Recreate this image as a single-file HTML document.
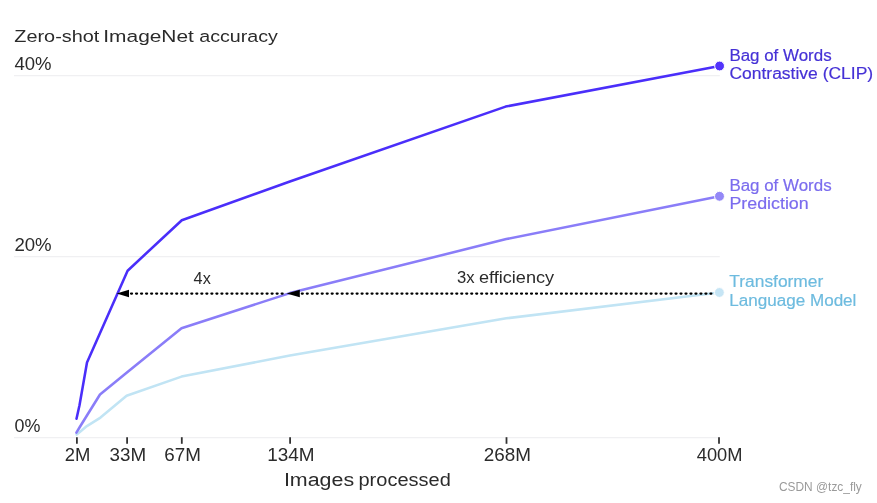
<!DOCTYPE html>
<html lang="en">
<head>
<meta charset="utf-8">
<title>Zero-shot ImageNet accuracy</title>
<style>
  html, body { margin: 0; padding: 0; background: #ffffff; }
  body { width: 877px; height: 503px; overflow: hidden; }
  svg { display: block; }
  text { font-family: "Liberation Sans", sans-serif; fill: #2b2b2b; }
  .grid { stroke: #f0f0f2; stroke-width: 1.4; }
  .tick { stroke: #333333; stroke-width: 1.8; }
  .ln { fill: none; stroke-width: 2.55; stroke-linejoin: round; stroke-linecap: round; }
  .dot { stroke: #000000; stroke-width: 2.1; stroke-dasharray: 1.1 3.9; stroke-linecap: round; fill: none; }
  .lb { stroke-width: 0.18; }
</style>
</head>
<body>
<svg width="877" height="503" viewBox="0 0 877 503">
  <rect x="0" y="0" width="877" height="503" fill="#ffffff"/>

  <!-- grid lines -->
  <line class="grid" x1="14" y1="75.6" x2="719.8" y2="75.6"/>
  <line class="grid" x1="14" y1="256.6" x2="719.8" y2="256.6"/>
  <line class="grid" x1="14" y1="437.6" x2="719.8" y2="437.6"/>

  <!-- ticks -->
  <line class="tick" x1="76.9" y1="437.2" x2="76.9" y2="443.8"/>
  <line class="tick" x1="127.1" y1="437.2" x2="127.1" y2="443.8"/>
  <line class="tick" x1="181.8" y1="437.2" x2="181.8" y2="443.8"/>
  <line class="tick" x1="290.1" y1="437.2" x2="290.1" y2="443.8"/>
  <line class="tick" x1="506.5" y1="437.2" x2="506.5" y2="443.8"/>
  <line class="tick" x1="719" y1="437.2" x2="719" y2="443.8"/>

  <!-- title and y labels -->
  <text id="t_title" x="14.3" y="41.7" font-size="16.9" textLength="85" lengthAdjust="spacingAndGlyphs">Zero-shot</text>
  <text id="t_title2" x="103.3" y="41.7" font-size="16.9" textLength="90.6" lengthAdjust="spacingAndGlyphs">ImageNet</text>
  <text id="t_title3" x="199.3" y="41.7" font-size="16.9" textLength="78.6" lengthAdjust="spacingAndGlyphs">accuracy</text>
  <text id="t_40" x="14.4" y="70.1" font-size="17.8" textLength="37.1" lengthAdjust="spacingAndGlyphs">40%</text>
  <text id="t_20" x="14.4" y="251.2" font-size="17.8" textLength="37.3" lengthAdjust="spacingAndGlyphs">20%</text>
  <text id="t_0" x="14.5" y="432.4" font-size="17.8" textLength="25.9" lengthAdjust="spacingAndGlyphs">0%</text>

  <!-- x labels -->
  <text x="64.7" y="461.2" font-size="17.8" textLength="25.6" lengthAdjust="spacingAndGlyphs">2M</text>
  <text x="109.6" y="461.2" font-size="17.8" textLength="36.6" lengthAdjust="spacingAndGlyphs">33M</text>
  <text x="164.3" y="461.2" font-size="17.8" textLength="36.6" lengthAdjust="spacingAndGlyphs">67M</text>
  <text x="267.3" y="461.2" font-size="17.8" textLength="47.3" lengthAdjust="spacingAndGlyphs">134M</text>
  <text x="483.7" y="461.2" font-size="17.8" textLength="47.2" lengthAdjust="spacingAndGlyphs">268M</text>
  <text x="696.8" y="461.2" font-size="17.8" textLength="45.7" lengthAdjust="spacingAndGlyphs">400M</text>
  <text x="283.9" y="485.8" font-size="17.6" textLength="70.2" lengthAdjust="spacingAndGlyphs">Images</text>
  <text x="358.5" y="485.8" font-size="17.6" textLength="92.3" lengthAdjust="spacingAndGlyphs">processed</text>

  <!-- data lines -->
  <polyline class="ln" stroke="#c1e4f4" points="76.7,434.6 79.8,432 86.9,426.1 100.5,417.6 126.6,395.8 181.5,376.6 289.9,355.5 506.3,318.3 719.4,292.5"/>
  <polyline class="ln" stroke="#8a7df8" points="76.4,432.6 79.8,427 86.3,416.5 100,394.5 126.6,372.8 181.5,328.3 289.9,293.1 506.3,239.1 719.5,196.3"/>
  <polyline class="ln" stroke="#4a2efa" points="76.5,418.7 79.5,405.2 87,362.5 127.6,270.7 181.8,220.2 289.9,181.5 505.6,106.6 719.6,66.1"/>

  <!-- dotted comparison line with arrows -->
  <line class="dot" x1="131" y1="293.6" x2="286" y2="293.6" style="stroke-dasharray:1.1 3.92"/>
  <line class="dot" x1="301.75" y1="293.6" x2="713" y2="293.6" style="stroke-dasharray:1.1 3.883"/>
  <polygon points="116.6,293.5 129,289.7 129,297.3" fill="#000"/>
  <polygon points="286.5,293.5 299.8,289.8 299.8,297.2" fill="#000"/>

  <text x="193.6" y="283.9" font-size="16.2" textLength="17.2" lengthAdjust="spacingAndGlyphs">4x</text>
  <text x="457" y="283.4" font-size="16.2" textLength="17.6" lengthAdjust="spacingAndGlyphs">3x</text>
  <text x="478.9" y="283.4" font-size="16.2" textLength="75.2" lengthAdjust="spacingAndGlyphs">efficiency</text>

  <!-- end dots -->
  <circle cx="719.4" cy="292.5" r="4.9" fill="#c6e5f5" stroke="#ffffff" stroke-width="1"/>
  <circle cx="719.5" cy="196.3" r="4.95" fill="#9488f7" stroke="#ffffff" stroke-width="1"/>
  <circle cx="719.6" cy="66" r="4.9" fill="#5233fb" stroke="#ffffff" stroke-width="1"/>

  <!-- series labels -->
  <text x="729.4" y="60.5" font-size="16" class="lb" style="fill:#4531d6;stroke:#4531d6" textLength="102.2" lengthAdjust="spacingAndGlyphs">Bag of Words</text>
  <text x="729.4" y="78.6" font-size="16" class="lb" style="fill:#4531d6;stroke:#4531d6" textLength="143.8" lengthAdjust="spacingAndGlyphs">Contrastive (CLIP)</text>
  <text x="729.4" y="190.5" font-size="16" class="lb" style="fill:#7b6cee;stroke:#7b6cee" textLength="102.2" lengthAdjust="spacingAndGlyphs">Bag of Words</text>
  <text x="729.4" y="208.6" font-size="16" class="lb" style="fill:#7b6cee;stroke:#7b6cee" textLength="79.3" lengthAdjust="spacingAndGlyphs">Prediction</text>
  <text x="729.3" y="286.5" font-size="16" class="lb" style="fill:#6dbbdf;stroke:#6dbbdf" textLength="94" lengthAdjust="spacingAndGlyphs">Transformer</text>
  <text x="729.3" y="305.7" font-size="16" class="lb" style="fill:#6dbbdf;stroke:#6dbbdf" textLength="127.1" lengthAdjust="spacingAndGlyphs">Language Model</text>

  <!-- watermark -->
  <text x="779" y="490.6" font-size="12" style="fill:#9a9a9a" textLength="82.8" lengthAdjust="spacingAndGlyphs">CSDN @tzc_fly</text>
</svg>
</body>
</html>
